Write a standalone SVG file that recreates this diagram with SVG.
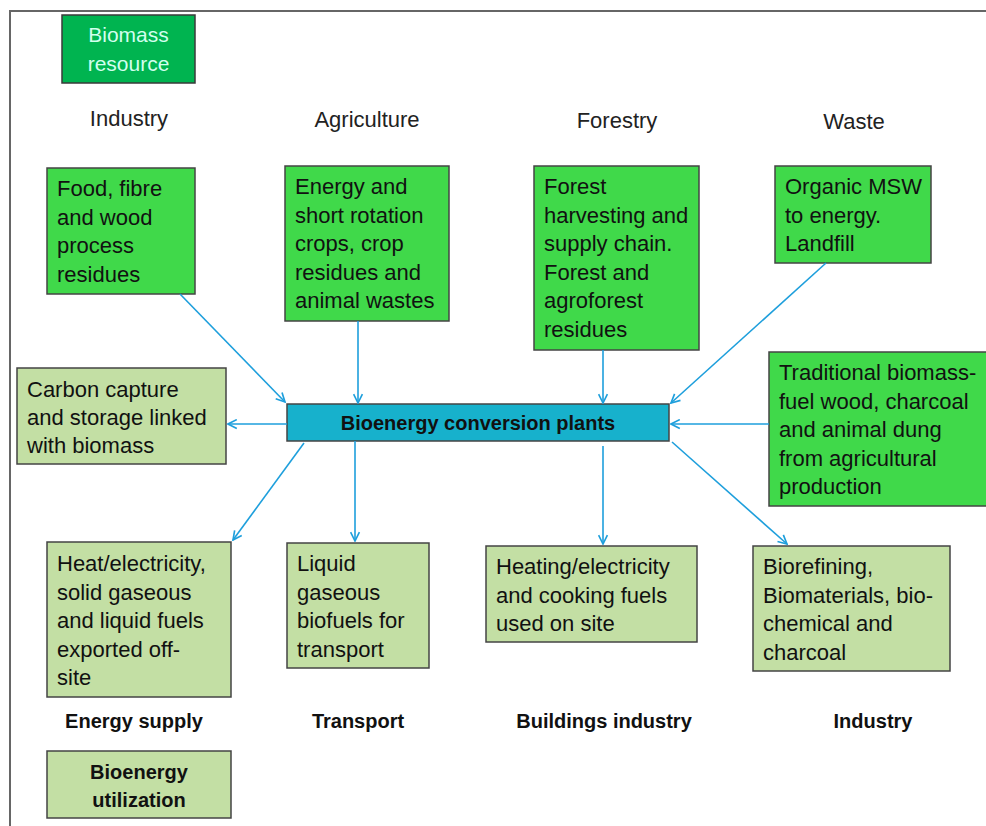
<svg xmlns="http://www.w3.org/2000/svg" width="986" height="826" viewBox="0 0 986 826">
<defs>
<style>
.frame{stroke:#666;stroke-width:2;fill:none}
.src{fill:#00b450;stroke:#3a3a3a;stroke-width:1.5}
.g{fill:#40d94a;stroke:#444;stroke-width:1.5}
.lg{fill:#c3dfa4;stroke:#444;stroke-width:1.5}
.c{fill:#17b1cc;stroke:#444;stroke-width:1.5}
text{font-family:"Liberation Sans",Arial,sans-serif;font-size:22px;fill:#111}
.hd{fill:#222}
.b{font-weight:bold;font-size:20px}
.mid{text-anchor:middle}
.lt{fill:#d2ffee;font-size:21px}
.conn path{stroke:#1e9fdc;stroke-width:1.6;fill:none;marker-end:url(#ah)}
</style>
<marker id="ah" viewBox="0 0 10 10" refX="9" refY="5" markerWidth="11" markerHeight="11" markerUnits="userSpaceOnUse" orient="auto">
<path d="M1,1 L9,5 L1,9" fill="none" stroke="#1e9fdc" stroke-width="1.5"/>
</marker>
</defs>
<rect width="986" height="826" fill="#fff"/>
<path class="frame" d="M10,826 L10,11 L986,11"/>

<g id="biomass-resource">
<rect class="src" x="62" y="15" width="133" height="68"/>
<text class="mid lt" x="128.5" y="42">Biomass</text>
<text class="mid lt" x="128.5" y="71">resource</text>
</g>

<g id="headings">
<text class="mid hd" x="129" y="126">Industry</text>
<text class="mid hd" x="367" y="127">Agriculture</text>
<text class="mid hd" x="617" y="128">Forestry</text>
<text class="mid hd" x="854" y="129">Waste</text>
</g>

<g id="food">
<rect class="g" x="47" y="168" width="148" height="126"/>
<text x="57" y="196">Food, fibre</text>
<text x="57" y="224.5">and wood</text>
<text x="57" y="253">process</text>
<text x="57" y="281.5">residues</text>
</g>

<g id="agri">
<rect class="g" x="285" y="166" width="164" height="155"/>
<text x="295" y="194">Energy and</text>
<text x="295" y="222.5">short rotation</text>
<text x="295" y="251">crops, crop</text>
<text x="295" y="279.5">residues and</text>
<text x="295" y="308">animal wastes</text>
</g>

<g id="forest">
<rect class="g" x="534" y="166" width="165" height="184"/>
<text x="544" y="194">Forest</text>
<text x="544" y="222.5">harvesting and</text>
<text x="544" y="251">supply chain.</text>
<text x="544" y="279.5">Forest and</text>
<text x="544" y="308">agroforest</text>
<text x="544" y="336.5">residues</text>
</g>

<g id="waste">
<rect class="g" x="775" y="166" width="156" height="97"/>
<text x="785" y="194">Organic MSW</text>
<text x="785" y="222.5">to energy.</text>
<text x="785" y="251">Landfill</text>
</g>

<g id="traditional">
<rect class="g" x="769" y="352" width="225" height="154"/>
<text x="779" y="380">Traditional biomass-</text>
<text x="779" y="408.5">fuel wood, charcoal</text>
<text x="779" y="437">and animal dung</text>
<text x="779" y="465.5">from agricultural</text>
<text x="779" y="494">production</text>
</g>

<g id="carbon">
<rect class="lg" x="17" y="368" width="209" height="96"/>
<text x="27" y="397">Carbon capture</text>
<text x="27" y="425">and storage linked</text>
<text x="27" y="453">with biomass</text>
</g>

<g id="conversion">
<rect class="c" x="287" y="404" width="382" height="37"/>
<text class="mid b" x="478" y="430">Bioenergy conversion plants</text>
</g>

<g id="heat">
<rect class="lg" x="47" y="542" width="184" height="155"/>
<text x="57" y="571">Heat/electricity,</text>
<text x="57" y="599.5">solid gaseous</text>
<text x="57" y="628">and liquid fuels</text>
<text x="57" y="656.5">exported off-</text>
<text x="57" y="685">site</text>
</g>

<g id="liquid">
<rect class="lg" x="287" y="543" width="142" height="125"/>
<text x="297" y="571">Liquid</text>
<text x="297" y="599.5">gaseous</text>
<text x="297" y="628">biofuels for</text>
<text x="297" y="656.5">transport</text>
</g>

<g id="heating">
<rect class="lg" x="486" y="546" width="211" height="96"/>
<text x="496" y="574">Heating/electricity</text>
<text x="496" y="602.5">and cooking fuels</text>
<text x="496" y="631">used on site</text>
</g>

<g id="biorefining">
<rect class="lg" x="753" y="546" width="197" height="125"/>
<text x="763" y="574">Biorefining,</text>
<text x="763" y="602.5">Biomaterials, bio-</text>
<text x="763" y="631">chemical and</text>
<text x="763" y="659.5">charcoal</text>
</g>

<g id="sector-labels">
<text class="mid b" x="134" y="728">Energy supply</text>
<text class="mid b" x="358" y="728">Transport</text>
<text class="mid b" x="604" y="728">Buildings industry</text>
<text class="mid b" x="873" y="728">Industry</text>
</g>

<g id="utilization">
<rect class="lg" x="47" y="751" width="184" height="67"/>
<text class="mid b" x="139" y="779">Bioenergy</text>
<text class="mid b" x="139" y="807">utilization</text>
</g>

<g id="connectors" class="conn">
<path d="M180,294 L285,402"/>
<path d="M358,321 L358,403"/>
<path d="M603,350 L603,403"/>
<path d="M826,263 L671,403"/>
<path d="M769,424 L671,424"/>
<path d="M287,424 L228,424"/>
<path d="M304,443 L233,540"/>
<path d="M355,441 L355,541"/>
<path d="M603,446 L603,544"/>
<path d="M672,442 L787,544"/>
</g>
</svg>
